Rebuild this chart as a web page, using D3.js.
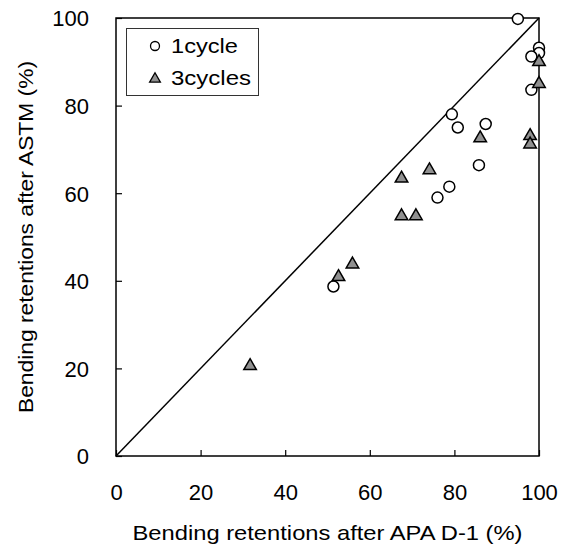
<!DOCTYPE html>
<html>
<head>
<meta charset="utf-8">
<script src="https://cdn.jsdelivr.net/npm/d3@7"></script>
<style>
  body { margin: 0; background: #fff; }
  text { font-family: Arial, "Liberation Sans", sans-serif; fill: #000; }
</style>
</head>
<body>
<div class="chart"></div>
<script>
// Data (APA D-1 retention vs ASTM retention, %)
var oneCycleX = [95, 100, 100, 98.2, 98.2, 79.4, 80.8, 87.4, 85.8, 78.8, 76.0, 51.4];
var oneCycleY = [99.8, 93.2, 92.0, 91.2, 83.6, 78.0, 75.0, 75.8, 66.4, 61.5, 59.0, 38.7];
var threeCycleX = [100, 100, 86.1, 97.9, 97.9, 74.1, 67.5, 67.5, 70.9, 55.9, 52.6, 31.7];
var threeCycleY = [90.2, 85.2, 72.8, 73.3, 71.4, 65.5, 63.6, 55.0, 55.0, 44.0, 41.1, 20.8];
var tickValues = [0, 20, 40, 60, 80, 100];
var seriesNames = ["1cycle", "3cycles"];

var svgWidth = 566;
var svgHeight = 554;

var margin = { top: 18, right: 27, bottom: 98, left: 116 };
var chartWidth = svgWidth - margin.left - margin.right;
var chartHeight = svgHeight - margin.top - margin.bottom;

var svg = d3.select(".chart")
  .append("svg")
  .attr("width", svgWidth)
  .attr("height", svgHeight);

var g = svg.append("g")
  .attr("transform", "translate(" + margin.left + "," + margin.top + ")");

var x = d3.scaleLinear().domain([0, 100]).range([0, chartWidth]);
var y = d3.scaleLinear().domain([0, 100]).range([chartHeight, 0]);

// axes with ticks pointing inward
var xAxis = g.append("g")
  .attr("transform", "translate(0," + chartHeight + ")")
  .call(d3.axisBottom(x).tickValues(tickValues).tickSizeInner(-6).tickSizeOuter(0));
xAxis.selectAll("text")
  .attr("y", 44).attr("dy", 0)
  .style("font-size", "22px");

var yAxis = g.append("g")
  .call(d3.axisLeft(y).tickValues(tickValues).tickSizeInner(-6).tickSizeOuter(0));
yAxis.selectAll("text")
  .attr("x", -27).attr("dy", "0.36em")
  .style("font-size", "22px");

svg.selectAll(".domain").remove();
svg.selectAll(".tick line").attr("stroke", "#000").attr("stroke-width", 1.2);

// plot frame
g.append("rect")
  .attr("width", chartWidth)
  .attr("height", chartHeight)
  .attr("fill", "none")
  .attr("stroke", "#000")
  .attr("stroke-width", 1.5);

// 1:1 line
g.append("line")
  .attr("x1", x(0)).attr("y1", y(0))
  .attr("x2", x(100)).attr("y2", y(100))
  .attr("stroke", "#000")
  .attr("stroke-width", 1.5);

// 1cycle circles
g.selectAll("circle.one")
  .data(d3.range(oneCycleX.length))
  .enter()
  .append("circle")
  .attr("class", "one")
  .attr("cx", function(i) { return x(oneCycleX[i]); })
  .attr("cy", function(i) { return y(oneCycleY[i]); })
  .attr("r", 5.5)
  .attr("fill", "white")
  .attr("stroke", "#000")
  .attr("stroke-width", 1.5);

// 3cycles triangles
var tri = d3.symbol().type(d3.symbolTriangle).size(68);
g.selectAll("path.three")
  .data(d3.range(threeCycleX.length))
  .enter()
  .append("path")
  .attr("class", "three")
  .attr("d", tri)
  .attr("transform", function(i) {
    return "translate(" + x(threeCycleX[i]) + "," + (y(threeCycleY[i]) + 1) + ")";
  })
  .attr("fill", "#909090")
  .attr("stroke", "#000")
  .attr("stroke-width", 1.5);

// axis titles (the source font runs a bit wide, so stretch to its length)
svg.append("text")
  .attr("x", margin.left + chartWidth / 2)
  .attr("y", 540)
  .attr("text-anchor", "middle")
  .attr("textLength", 390)
  .attr("lengthAdjust", "spacingAndGlyphs")
  .style("font-size", "21px")
  .text("Bending retentions after APA D-1 (%)");

svg.append("text")
  .attr("transform", "translate(33," + (margin.top + chartHeight / 2) + ") rotate(-90)")
  .attr("text-anchor", "middle")
  .attr("textLength", 352)
  .attr("lengthAdjust", "spacingAndGlyphs")
  .style("font-size", "21px")
  .text("Bending retentions after ASTM (%)");

// legend
var legend = svg.append("g");
legend.append("rect")
  .attr("x", 126.5).attr("y", 28.5)
  .attr("width", 132).attr("height", 67)
  .attr("fill", "white")
  .attr("stroke", "#333")
  .attr("stroke-width", 1);

legend.append("circle")
  .attr("cx", 155).attr("cy", 46)
  .attr("r", 4.5)
  .attr("fill", "white")
  .attr("stroke", "#000")
  .attr("stroke-width", 1.3);

legend.append("path")
  .attr("d", d3.symbol().type(d3.symbolTriangle).size(50))
  .attr("transform", "translate(155,79)")
  .attr("fill", "#909090")
  .attr("stroke", "#000")
  .attr("stroke-width", 1.3);

var legendWidths = [67, 80];
legend.selectAll("text")
  .data(seriesNames)
  .enter()
  .append("text")
  .attr("x", 171)
  .attr("y", function(d, i) { return 53 + i * 32; })
  .attr("textLength", function(d, i) { return legendWidths[i]; })
  .attr("lengthAdjust", "spacingAndGlyphs")
  .style("font-size", "21px")
  .text(function(d) { return d; });
</script>
</body>
</html>
